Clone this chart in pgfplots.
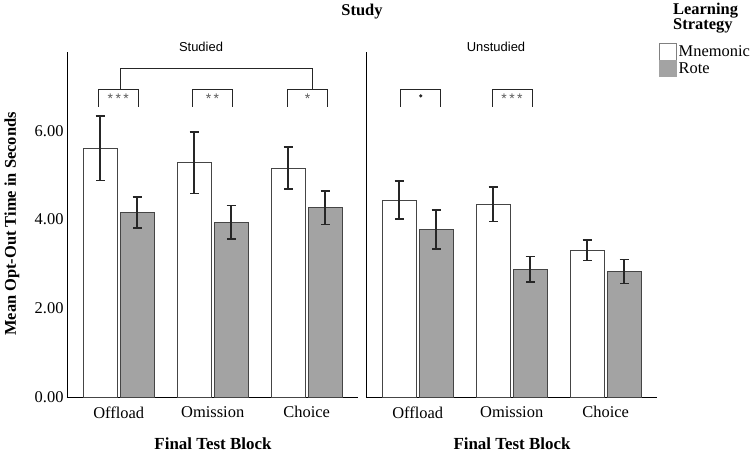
\documentclass[border=0pt]{standalone}
\usepackage{fontspec}
\setmainfont{Liberation Serif}
\setsansfont{Liberation Sans}
\usepackage{pgfplots}
\pgfplotsset{compat=1.18}
\usepackage{pgfplotstable}

\definecolor{rotegray}{HTML}{A3A3A3}
\definecolor{edge}{HTML}{454545}
\definecolor{stargray}{HTML}{5A5A5A}

% Mean opt-out time (s) and error half-widths, per final test block
\pgfplotstableread{
x m me r re
1 5.61 0.73 4.16 0.35
2 5.28 0.69 3.94 0.38
3 5.16 0.47 4.27 0.38
}\studied
\pgfplotstableread{
x m me r re
1 4.44 0.43 3.78 0.44
2 4.35 0.39 2.88 0.29
3 3.31 0.23 2.83 0.27
}\unstudied

\newcommand\bigfont{\fontsize{16.5}{18}\selectfont}
\newcommand\starfont{\sffamily\fontsize{14}{14}\selectfont}
% dodge offset of the two bars in a group (axis units)
\newcommand\dodge{0.1968}

\tikzset{brk/.style={line width=0.9bp, black!85}}

\pgfplotsset{
  panel/.style={
    scale only axis, width=290.5bp, height=345bp,
    xmin=0.45, xmax=3.54, ymin=0, ymax=7.78,
    axis x line*=bottom, axis y line*=left,
    axis line style={-, line width=0.9bp, black},
    xtick={1,2,3}, xticklabels={Offload,Omission,Choice},
    major tick length=0pt,
    tick label style={font=\bigfont},
    xticklabel style={yshift=-6bp},
    clip=false,
  },
  mbar/.style={ybar, bar width=34bp, bar shift=0pt, fill=white, draw=edge, line width=0.8bp},
  rbar/.style={ybar, bar width=34bp, bar shift=0pt, fill=rotegray, draw=edge, line width=0.8bp},
  ebars/.style={error bars/.cd, y dir=both, y explicit,
    error bar style={line width=1.7bp, black!85},
    error mark options={rotate=90, mark size=4.5bp, line width=1.7bp, black!85}},
}

\begin{document}
\begin{tikzpicture}[x=1bp, y=1bp]
\useasboundingbox (-67bp,-59bp) rectangle (683bp,397bp);

% Studied panel
\begin{axis}[panel, at={(0bp,0bp)}, anchor=south west,
  ytick={0,2,4,6}, yticklabels={0.00,2.00,4.00,6.00}]
  \addplot[mbar, ebars] table[x expr=\thisrow{x}-\dodge, y=m, y error=me] {\studied};
  \addplot[rbar, ebars] table[x expr=\thisrow{x}+\dodge, y=r, y error=re] {\studied};
  \draw[brk] (axis cs:0.782,6.54) |- (axis cs:1.207,6.94) -- (axis cs:1.207,6.54);
  \draw[brk] (axis cs:1.785,6.54) |- (axis cs:2.210,6.94) -- (axis cs:2.210,6.54);
  \draw[brk] (axis cs:2.800,6.54) |- (axis cs:3.221,6.94) -- (axis cs:3.221,6.54);
  \draw[brk] (axis cs:1.016,6.94) |- (axis cs:3.066,7.42) -- (axis cs:3.066,6.94);
  \node[font=\starfont, text=stargray, yshift=-3bp] at (axis cs:0.995,6.79) {*\hspace{2.5bp}*\hspace{2.5bp}*};
  \node[font=\starfont, text=stargray, yshift=-3bp] at (axis cs:1.997,6.79) {*\hspace{2.5bp}*};
  \node[font=\starfont, text=stargray, yshift=-3bp] at (axis cs:3.010,6.79) {*};
\end{axis}

% Unstudied panel
\begin{axis}[panel, at={(299bp,0bp)}, anchor=south west, ytick=\empty]
  \addplot[mbar, ebars] table[x expr=\thisrow{x}-\dodge, y=m, y error=me] {\unstudied};
  \addplot[rbar, ebars] table[x expr=\thisrow{x}+\dodge, y=r, y error=re] {\unstudied};
  \draw[brk] (axis cs:0.819,6.54) |- (axis cs:1.245,6.94) -- (axis cs:1.245,6.54);
  \draw[brk] (axis cs:1.790,6.54) |- (axis cs:2.216,6.94) -- (axis cs:2.216,6.54);
  \fill[black!85] (axis cs:1.032,6.79) circle[radius=1.8bp];
  \node[font=\starfont, text=stargray, yshift=-3bp] at (axis cs:2.003,6.79) {*\hspace{2.5bp}*\hspace{2.5bp}*};
\end{axis}

% Titles and axis labels
\node[font=\bigfont\bfseries] at (295bp,385bp) {Study};
\node[font=\sffamily\fontsize{13}{14}\selectfont] at (134bp,350bp) {Studied};
\node[font=\sffamily\fontsize{13}{14}\selectfont] at (429bp,350bp) {Unstudied};
\node[font=\bigfont\bfseries, rotate=90] at (-55bp,173bp) {Mean Opt-Out Time in Seconds};
\node[font=\fontsize{17}{18}\selectfont\bfseries] at (146bp,-47bp) {Final Test Block};
\node[font=\fontsize{17}{18}\selectfont\bfseries] at (445bp,-47bp) {Final Test Block};

% Legend
\node[font=\bigfont\bfseries, anchor=base west, inner sep=0pt] at (606bp,382bp) {Learning};
\node[font=\bigfont\bfseries, anchor=base west, inner sep=0pt] at (606bp,367bp) {Strategy};
\draw[fill=white, draw=gray, line width=0.8bp] (592.5bp,337bp) rectangle (609.5bp,354bp);
\fill[rotegray] (592bp,319.5bp) rectangle (610bp,336.5bp);
\node[font=\bigfont, anchor=base west, inner sep=0pt] at (611.5bp,340.3bp) {Mnemonic};
\node[font=\bigfont, anchor=base west, inner sep=0pt] at (611.5bp,323.7bp) {Rote};
\end{tikzpicture}
\end{document}
